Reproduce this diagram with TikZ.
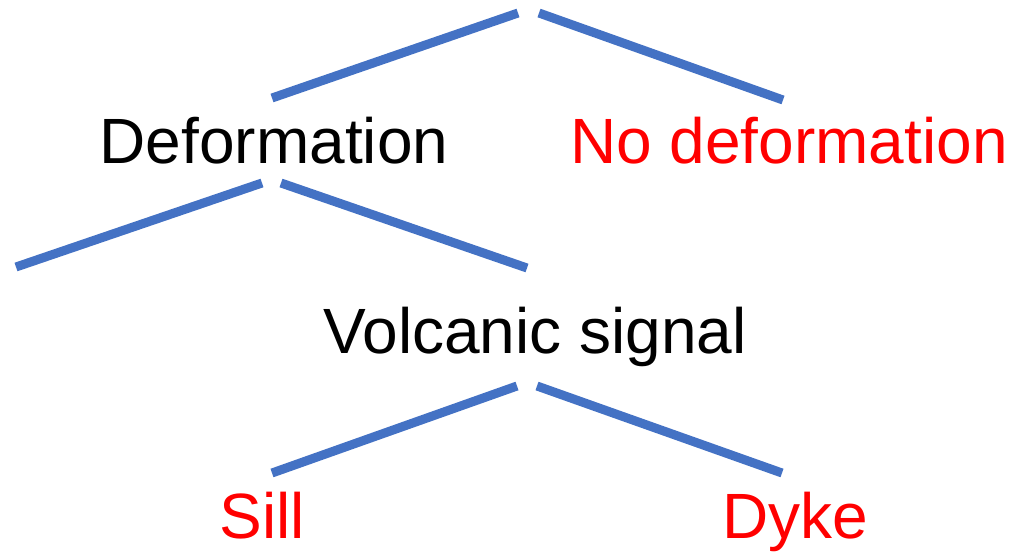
\documentclass[tikz,border=0pt]{standalone}
\usepackage{fontspec}
\setmainfont{Liberation Sans}
\definecolor{branchblue}{HTML}{4472C4}
\definecolor{leafred}{HTML}{FF0000}
\begin{document}
\begin{tikzpicture}[x=1pt,y=-1pt,
  branch/.style={draw=branchblue,line width=9pt},
  label/.style={inner sep=0pt,anchor=base,font=\fontsize{64}{76}\selectfont},
  leaf/.style={label,text=leafred}]
\useasboundingbox (0,0) rectangle (1014,557);
% coordinates
\coordinate (a1) at (272,98);  \coordinate (a2) at (518,13);
\coordinate (b1) at (539,13);  \coordinate (b2) at (783,100);
\coordinate (c1) at (16,267);  \coordinate (c2) at (262,183);
\coordinate (d1) at (281,183); \coordinate (d2) at (527,268);
\coordinate (e1) at (272,473); \coordinate (e2) at (517,386);
\coordinate (f1) at (537,386); \coordinate (f2) at (782,473);
\draw[branch] (a1) -- (a2);
\draw[branch] (b1) -- (b2);
\draw[branch] (c1) -- (c2);
\draw[branch] (d1) -- (d2);
\draw[branch] (e1) -- (e2);
\draw[branch] (f1) -- (f2);
\node[label] (def) at (274,163) {Deformation};
\node[leaf] (nodef) at (789,163) {No deformation};
\node[label] (volc) at (535,353) {Volcanic signal};
\node[leaf] (sill) at (262,538) {Sill};
\node[leaf] (dyke) at (795,538) {Dyke};
\end{tikzpicture}
\end{document}
